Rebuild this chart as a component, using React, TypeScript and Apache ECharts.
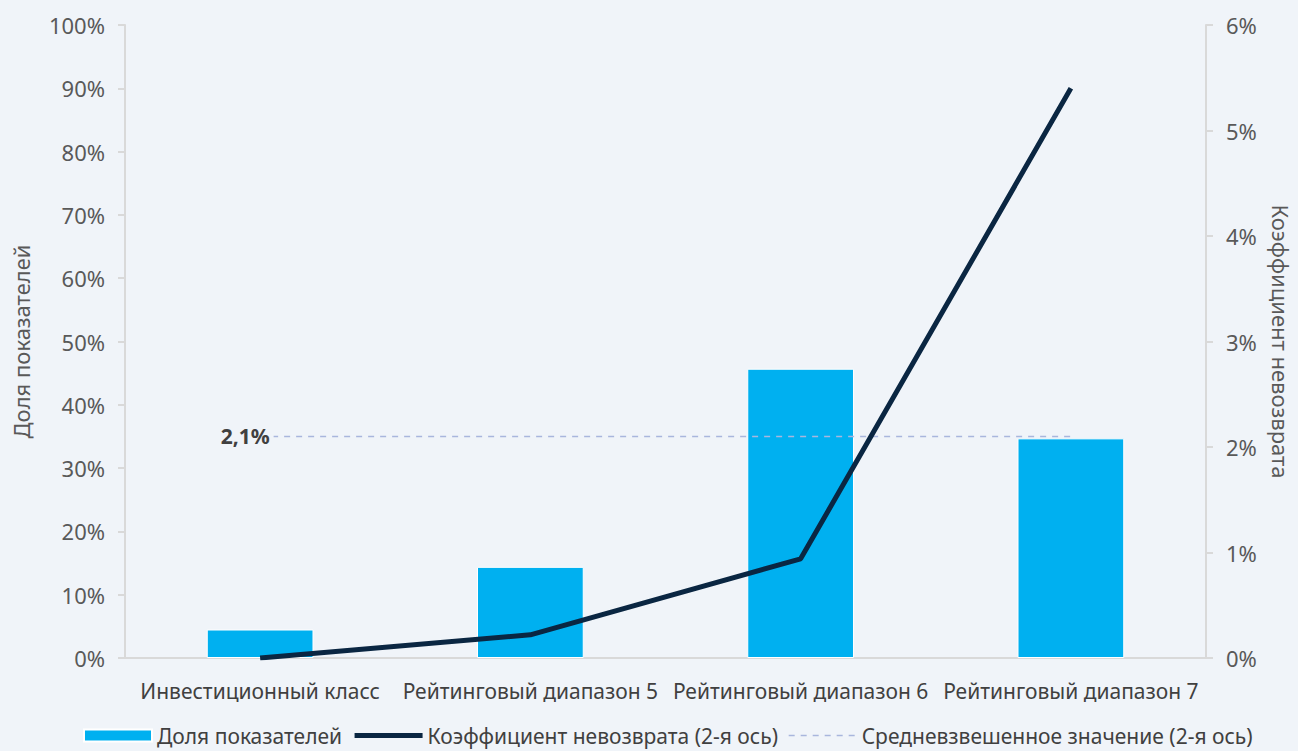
import React, { useEffect, useRef } from "react";
import * as echarts from "echarts";

const categories = [
  "Инвестиционный класс",
  "Рейтинговый диапазон 5",
  "Рейтинговый диапазон 6",
  "Рейтинговый диапазон 7",
];
const shareValues = [4.5, 14.4, 45.7, 34.7];
const defaultRate = [0.0, 0.22, 0.94, 5.4];
const weightedAvg = [2.1, 2.1, 2.1, 2.1];
const leftTicks = { min: 0, max: 100, interval: 10 };
const rightTicks = { min: 0, max: 6, interval: 1 };

const FONT = "Noto Sans";
const BG = "#f0f4f9";

export default function App() {
  const ref = useRef<HTMLDivElement>(null);
  useEffect(() => {
    if (!ref.current) return;
    const chart = echarts.init(ref.current, undefined, { renderer: "svg" });
    chart.setOption({
      animation: false,
      backgroundColor: BG,
      textStyle: { fontFamily: FONT },
      grid: { left: 125, right: 92, top: 25, bottom: 93, containLabel: false, outerBoundsMode: "none" },
      legend: {
        bottom: 0,
        left: 78,
        itemGap: 10,
        itemWidth: 68,
        itemHeight: 12,
        textStyle: { fontSize: 21, color: "#404040", fontFamily: FONT },
        data: [
          { name: "Доля показателей", icon: "rect" },
          {
            name: "Коэффициент невозврата (2-я ось)",
            itemStyle: { opacity: 0 },
            lineStyle: { width: 5, color: "#0a2642" },
          },
          {
            name: "Средневзвешенное значение (2-я ось)",
            itemStyle: { opacity: 0 },
            lineStyle: { width: 1.5, color: "#a9b6dd", type: [6, 6] },
          },
        ],
      },
      xAxis: {
        type: "category",
        data: categories,
        axisLine: { lineStyle: { color: "#d9d9d9", width: 2 } },
        axisTick: { show: false },
        axisLabel: { color: "#404040", fontSize: 21, margin: 22, interval: 0 },
      },
      yAxis: [
        {
          type: "value",
          min: leftTicks.min,
          max: leftTicks.max,
          interval: leftTicks.interval,
          name: "Доля показателей",
          nameLocation: "middle",
          nameGap: 93,
          nameTextStyle: { color: "#595959", fontSize: 22 },
          axisLine: { show: true, lineStyle: { color: "#d9d9d9", width: 2 } },
          axisTick: { show: true, length: 7, lineStyle: { color: "#d9d9d9", width: 2 } },
          axisLabel: { color: "#595959", fontSize: 22, margin: 20, formatter: "{value}%" },
          splitLine: { show: false },
        },
        {
          type: "value",
          min: rightTicks.min,
          max: rightTicks.max,
          interval: rightTicks.interval,
          name: "Коэффициент невозврата",
          nameLocation: "middle",
          nameRotate: -90,
          nameGap: 64,
          nameTextStyle: { color: "#595959", fontSize: 22 },
          position: "right",
          axisLine: { show: true, lineStyle: { color: "#d9d9d9", width: 2 } },
          axisTick: { show: true, length: 7, lineStyle: { color: "#d9d9d9", width: 2 } },
          axisLabel: { color: "#595959", fontSize: 22, margin: 20, formatter: "{value}%" },
          splitLine: { show: false },
        },
      ],
      series: [
        {
          name: "Доля показателей",
          type: "bar",
          yAxisIndex: 0,
          data: shareValues,
          barWidth: "39.5%",
          itemStyle: { color: "#00b0f0", borderColor: "#ffffff", borderWidth: 1 },
        },
        {
          name: "Коэффициент невозврата (2-я ось)",
          type: "line",
          yAxisIndex: 1,
          data: defaultRate,
          symbol: "none",
          lineStyle: { color: "#0a2642", width: 5 },
          itemStyle: { color: "#0a2642" },
          z: 5,
        },
        {
          name: "Средневзвешенное значение (2-я ось)",
          type: "line",
          yAxisIndex: 1,
          data: weightedAvg.map((v, i) =>
            i === 0
              ? {
                  value: v,
                  label: {
                    show: true,
                    position: "left",
                    distance: 0,
                    offset: [14, 0],
                    formatter: "2,1%",
                    fontSize: 21,
                    fontWeight: "bold",
                    color: "#404040",
                    backgroundColor: BG,
                    padding: [2, 4, 2, 2],
                  },
                }
              : v
          ),
          symbol: "circle",
          symbolSize: 1,
          showSymbol: true,
          lineStyle: { color: "#a9b6dd", width: 1.5, type: [6, 6] },
          itemStyle: { color: "rgba(0,0,0,0)" },
          z: 3,
        },
      ],
    });
    return () => chart.dispose();
  }, []);
  return (
    <div
      ref={ref}
      style={{ position: "fixed", left: 0, top: 0, width: 1298, height: 751 }}
    />
  );
}
